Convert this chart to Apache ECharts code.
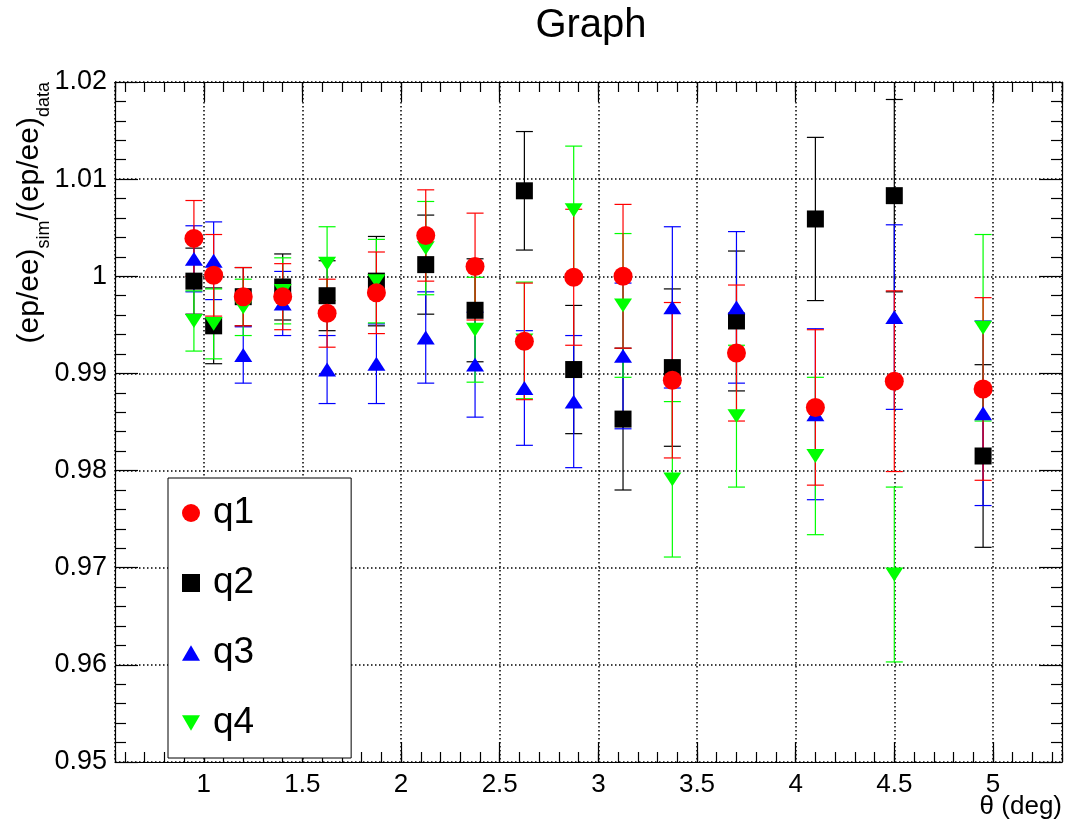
<!DOCTYPE html>
<html>
<head>
<meta charset="utf-8">
<script src="https://cdn.jsdelivr.net/npm/echarts@6/dist/echarts.min.js"></script>
<style>
  html, body { margin: 0; padding: 0; background: #fff; }
  #chart { width: 1068px; height: 825px; }
</style>
</head>
<body>
<div id="chart"></div>
<script>
// ---- data ----
const thetaValues = [0.95, 1.05, 1.2, 1.4, 1.625, 1.875, 2.125, 2.375, 2.625, 2.875, 3.125, 3.375, 3.7, 4.1, 4.5, 4.95];

const q1Values = [1.0039, 1.0001, 0.9979, 0.9979, 0.9962, 0.9983, 1.0042, 1.0010, 0.9933, 0.9999, 1.0000, 0.9893, 0.9921, 0.9865, 0.9892, 0.9884];
const q1Errors = [0.0039, 0.0042, 0.0030, 0.0034, 0.0035, 0.0042, 0.0047, 0.0055, 0.0060, 0.0070, 0.0074, 0.0080, 0.0070, 0.0080, 0.0093, 0.0094];

const q2Values = [0.9995, 0.9949, 0.9979, 0.9989, 0.9980, 0.9995, 1.0012, 0.9965, 1.0088, 0.9904, 0.9853, 0.9906, 0.9954, 1.0059, 1.0083, 0.9815];
const q2Errors = [0.0034, 0.0039, 0.0030, 0.0034, 0.0036, 0.0046, 0.0051, 0.0053, 0.0061, 0.0066, 0.0073, 0.0081, 0.0072, 0.0084, 0.0099, 0.0094];

const q3Values = [1.0018, 1.0016, 0.9919, 0.9972, 0.9904, 0.9910, 0.9937, 0.9909, 0.9885, 0.9871, 0.9918, 0.9968, 0.9968, 0.9858, 0.9958, 0.9859];
const q3Errors = [0.0034, 0.0040, 0.0029, 0.0033, 0.0035, 0.0041, 0.0047, 0.0054, 0.0059, 0.0068, 0.0075, 0.0083, 0.0078, 0.0088, 0.0095, 0.0095];

const q4Values = [0.9954, 0.9951, 0.9968, 0.9985, 1.0013, 0.9995, 1.0029, 0.9945, 0.9934, 1.0068, 0.9970, 0.9791, 0.9856, 0.9815, 0.9693, 0.9947];
const q4Errors = [0.0031, 0.0036, 0.0029, 0.0034, 0.0038, 0.0043, 0.0048, 0.0054, 0.0060, 0.0066, 0.0074, 0.0080, 0.0073, 0.0081, 0.0090, 0.0096];

const seriesNames = ['q1', 'q2', 'q3', 'q4'];
const chartTitle = 'Graph';
const xTitle = 'θ (deg)';

// ---- presentation ----
const FONT = '"Liberation Sans", Arial, Helvetica, sans-serif';
const X_MIN = 0.55, X_MAX = 5.35;
const Y_MIN = 0.95, Y_MAX = 1.02, Y_STEP = 0.01;

const chart = echarts.init(document.getElementById('chart'), null, { renderer: 'canvas' });

function errBarSeries(name, vals, errs, color) {
  return {
    type: 'custom',
    name: name + '_err',
    xAxisIndex: 0,
    yAxisIndex: 0,
    silent: true,
    z: 2,
    data: thetaValues.map((x, i) => [x, vals[i], errs[i]]),
    renderItem: function (params, api) {
      const x = api.value(0), y = api.value(1), e = api.value(2);
      const top = api.coord([x, y + e]);
      const bot = api.coord([x, y - e]);
      const hw = 8.5;
      const style = { stroke: color, lineWidth: 1.2, fill: null };
      return {
        type: 'group',
        children: [
          { type: 'line', shape: { x1: top[0], y1: top[1], x2: bot[0], y2: bot[1] }, style: style },
          { type: 'line', shape: { x1: top[0] - hw, y1: top[1], x2: top[0] + hw, y2: top[1] }, style: style },
          { type: 'line', shape: { x1: bot[0] - hw, y1: bot[1], x2: bot[0] + hw, y2: bot[1] }, style: style }
        ]
      };
    }
  };
}

function markerSeries(name, vals, color, symbol, size) {
  return {
    type: 'scatter',
    name: name,
    xAxisIndex: 0,
    yAxisIndex: 0,
    z: 2,
    symbol: symbol,
    symbolSize: size,
    symbolKeepAspect: true,
    itemStyle: { color: color, opacity: 1 },
    emphasis: { disabled: true },
    data: thetaValues.map((x, i) => [x, vals[i]])
  };
}

const DOWN_TRI = 'path://M0,0 L20,0 L10,17.3 Z';
const UP_TRI = 'path://M10,0 L20,17.3 L0,17.3 Z';

const tickStyle = { color: '#000', width: 1.2 };
const gridLineStyle = { color: '#000', width: 1.5, type: [1.5, 2.5] };

const option = {
  backgroundColor: '#ffffff',
  animation: false,
  textStyle: { fontFamily: FONT },
  grid: { left: 115, right: 6, top: 82, bottom: 63, containLabel: false, outerBoundsMode: 'none' },
  legend: {
    data: seriesNames,
    orient: 'vertical',
    left: 168,
    top: 478,
    padding: [15, 97, 15, 14],
    itemGap: 30,
    itemWidth: 18,
    itemHeight: 18,
    selectedMode: false,
    backgroundColor: '#ffffff',
    borderColor: '#000',
    borderWidth: 1,
    borderRadius: 0,
    textStyle: { fontSize: 37, lineHeight: 40, color: '#000', fontFamily: FONT, padding: [0, 0, 0, 8] }
  },
  xAxis: [
    {
      type: 'value', min: X_MIN, max: X_MAX, splitNumber: 10, position: 'bottom',
      axisLine: { show: true, onZero: false, lineStyle: tickStyle },
      axisTick: { show: true, inside: true, length: 20, lineStyle: tickStyle },
      axisLabel: { show: true, showMinLabel: false, showMaxLabel: false, fontSize: 26, color: '#000', margin: 10, fontFamily: FONT },
      splitLine: { show: true, lineStyle: gridLineStyle }
    },
    {
      type: 'value', min: X_MIN, max: X_MAX, splitNumber: 48, position: 'bottom',
      axisLine: { show: false, onZero: false },
      axisTick: { show: true, inside: true, length: 10, lineStyle: tickStyle },
      axisLabel: { show: false },
      splitLine: { show: false }
    },
    {
      type: 'value', min: X_MIN, max: X_MAX, splitNumber: 10, position: 'top',
      axisLine: { show: true, onZero: false, lineStyle: tickStyle },
      axisTick: { show: true, inside: true, length: 20, lineStyle: tickStyle },
      axisLabel: { show: false },
      splitLine: { show: false }
    },
    {
      type: 'value', min: X_MIN, max: X_MAX, splitNumber: 48, position: 'top',
      axisLine: { show: false, onZero: false },
      axisTick: { show: true, inside: true, length: 10, lineStyle: tickStyle },
      axisLabel: { show: false },
      splitLine: { show: false }
    }
  ],
  yAxis: [
    {
      type: 'value', min: Y_MIN, max: Y_MAX, interval: Y_STEP, position: 'left',
      axisLine: { show: true, onZero: false, lineStyle: tickStyle },
      axisTick: { show: true, inside: true, length: 23, lineStyle: tickStyle },
      minorTick: { show: true, splitNumber: 5, length: 11, lineStyle: tickStyle },
      axisLabel: { show: true, fontSize: 27, color: '#000', margin: 8, fontFamily: FONT },
      splitLine: { show: true, lineStyle: gridLineStyle }
    },
    {
      type: 'value', min: Y_MIN, max: Y_MAX, interval: Y_STEP, position: 'right',
      axisLine: { show: true, onZero: false, lineStyle: tickStyle },
      axisTick: { show: true, inside: true, length: 23, lineStyle: tickStyle },
      minorTick: { show: true, splitNumber: 5, length: 11, lineStyle: tickStyle },
      axisLabel: { show: false },
      splitLine: { show: false }
    }
  ],
  graphic: [
    {
      type: 'text', x: 591, y: 26, z: 10,
      style: { text: chartTitle, fontSize: 40, fontFamily: FONT, fill: '#000', align: 'center', verticalAlign: 'middle' }
    },
    {
      type: 'text', x: 1062, y: 807, z: 10,
      style: { text: xTitle, fontSize: 26, fontFamily: FONT, fill: '#000', align: 'right', verticalAlign: 'middle' }
    },
    {
      type: 'text', x: 30, y: 82, rotation: Math.PI / 2, z: 10,
      style: {
        text: '{m|(ep/ee)}{s|sim}{m|/(ep/ee)}{s|data}',
        align: 'right', verticalAlign: 'middle', fill: '#000',
        rich: {
          m: { fontSize: 30, fontFamily: FONT, lineHeight: 46, fill: '#000', verticalAlign: 'middle' },
          s: { fontSize: 18, fontFamily: FONT, lineHeight: 18, fill: '#000', verticalAlign: 'bottom' }
        }
      }
    }
  ],
  series: [
    errBarSeries('q2', q2Values, q2Errors, '#000000'),
    markerSeries('q2', q2Values, '#000000', 'rect', 17),
    errBarSeries('q3', q3Values, q3Errors, '#0000ff'),
    markerSeries('q3', q3Values, '#0000ff', UP_TRI, [18, 16]),
    errBarSeries('q4', q4Values, q4Errors, '#00ff00'),
    markerSeries('q4', q4Values, '#00ff00', DOWN_TRI, [18, 16]),
    errBarSeries('q1', q1Values, q1Errors, '#ff0000'),
    markerSeries('q1', q1Values, '#ff0000', 'circle', 19)
  ]
};

chart.setOption(option);
</script>
</body>
</html>
